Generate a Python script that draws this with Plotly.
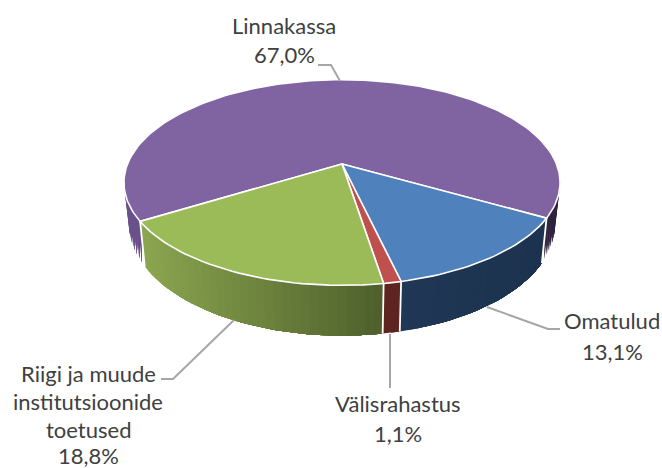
import math
import plotly.graph_objects as go

# Data
categories = ["Linnakassa", "Omatulud", "Välisrahastus", "Riigi ja muude institutsioonide toetused"]
shares = [67.0, 13.1, 1.1, 18.8]
value_labels = ["67,0%", "13,1%", "1,1%", "18,8%"]

# Styles
top_colors = ["#8064a2", "#4f81bd", "#c0504d", "#9bbb59"]
wall_colors = [
    {"left": "#6a5189", "right": "#30243f", "split": True},
    {"left": "#1f3855", "right": "#1c324e"},
    {"left": "#5e2420", "right": "#5e2420"},
    {"left": "#8ba650", "right": "#4e5f2b"},
]

# Projection of the pie
CX, CY = 342.0, 164.0
RX, RY, K = 214.5, 99.5, 0.18
SX, SY, C2 = 0.977, 1.08, 204.6
START = -29.7  # degrees where the first slice begins


def top(deg):
    t = math.radians(deg)
    u, v = math.cos(t), math.sin(t)
    d = 1 + K * v
    return CX + RX * u / d, CY - RY * v / d


def bottom(deg):
    x, y = top(deg)
    return CX + (x - CX) * SX, C2 + (y - CY) * SY


def hex2rgb(c):
    return tuple(int(c[i:i + 2], 16) for i in (1, 3, 5))


def mix(a, b, f):
    f = max(0.0, min(1.0, f))
    ra, rb = hex2rgb(a), hex2rgb(b)
    return "rgb(%d,%d,%d)" % tuple(round(p + (q - p) * f) for p, q in zip(ra, rb))


# First slice runs counter-clockwise from START, the rest clockwise from it
spans = [(START, START + shares[0] * 3.6)]
b = START
for s in shares[1:]:
    spans.append((b - s * 3.6, b))
    b -= s * 3.6

fig = go.Figure()


def poly(xs, ys, fill, line=None, width=0.0):
    fig.add_trace(go.Scatter(x=xs, y=ys, mode="lines", fill="toself", fillcolor=fill,
                             line=dict(color=line or fill, width=width),
                             hoverinfo="skip", showlegend=False))


def edge(xs, ys, width=1.8):
    fig.add_trace(go.Scatter(x=xs, y=ys, mode="lines",
                             line=dict(color="#ffffff", width=width),
                             hoverinfo="skip", showlegend=False))


def wall(lo, hi, style):
    n = max(2, int((hi - lo) / 2.0))
    angs = [lo + (hi - lo) * i / n for i in range(n + 1)]
    angs = [x for x in angs if math.sin(math.radians(x)) < 0.25]
    if len(angs) < 2:
        return
    xs = [top(x)[0] for x in angs]
    x0, x1 = min(xs), max(xs)
    # paint each quad through to the far end of the wall, so no seams show
    order = sorted(range(len(angs) - 1), key=lambda i: top(angs[i])[0])
    for pos, i in enumerate(order):
        p, q = angs[i], angs[i + 1]
        mid = (top(p)[0] + top(q)[0]) / 2
        col = mix(style["left"], style["right"], (mid - x0) / max(x1 - x0, 1))
        if style.get("split"):
            col = style["left"] if mid < CX else style["right"]
        rest = [angs[k] for k in range(len(angs))
                if (top(angs[k])[0] >= top(p)[0] - 1e-6 or top(angs[k])[0] >= top(q)[0] - 1e-6)]
        rest = sorted(rest, key=lambda a: top(a)[0])
        if style.get("split") and mid < CX:
            rest = [a for a in rest if top(a)[0] < CX]
        elif style.get("split"):
            rest = [a for a in rest if top(a)[0] >= CX]
        if len(rest) < 2:
            rest = [p, q]
        tops = [top(a) for a in rest]
        bots = [bottom(a) for a in reversed(rest)]
        pts = tops + bots + tops[:1]
        poly([t[0] for t in pts], [t[1] for t in pts], col)


# Walls
for (lo, hi), style in zip(spans, wall_colors):
    wall(lo, hi, style)

# Wall seams
for deg in [spans[0][0], spans[0][1], spans[2][0], spans[2][1]]:
    p, q = top(deg), bottom(deg)
    edge([p[0], q[0]], [p[1], q[1]])

# Top faces
for (lo, hi), col in zip(spans, top_colors):
    n = max(3, int((hi - lo) / 1.5))
    angs = [lo + (hi - lo) * i / n for i in range(n + 1)]
    pts = [top(x) for x in angs]
    xs = [CX] + [p[0] for p in pts] + [CX]
    ys = [CY] + [p[1] for p in pts] + [CY]
    poly(xs, ys, col, line="#ffffff", width=1.6)

# Leader lines
leaders = [
    ([318, 331, 340], [65, 65, 81]),
    ([487, 548, 560], [307, 329, 329]),
    ([390, 390], [334, 388]),
    ([161, 173, 234], [379, 379, 320]),
]
for xs, ys in leaders:
    fig.add_trace(go.Scatter(x=xs, y=ys, mode="lines", line=dict(color="#a6a6a6", width=2),
                             hoverinfo="skip", showlegend=False))

# Labels
labels = [
    (284, [(categories[0], 25), (value_labels[0], 54)]),
    (612, [(categories[1], 320), (value_labels[1], 351)]),
    (398, [(categories[2], 403), (value_labels[2], 433)]),
    (88, [("Riigi ja muude", 373), ("institutsioonide", 401), ("toetused", 429), (value_labels[3], 455)]),
]
annotations = []
for x, rows in labels:
    for txt, y in rows:
        annotations.append(dict(x=x, y=y, text=txt, showarrow=False, xanchor="center", yanchor="middle",
                                font=dict(family="Lato", size=22, color="#404040")))

fig.update_layout(
    width=662, height=468, margin=dict(l=0, r=0, t=0, b=0),
    paper_bgcolor="#ffffff", plot_bgcolor="#ffffff", showlegend=False,
    xaxis=dict(range=[0, 662], visible=False, fixedrange=True),
    yaxis=dict(range=[468, 0], visible=False, fixedrange=True),
    annotations=annotations,
)
fig.write_html("out.html", config={"displayModeBar": False},
               post_script="document.body.style.margin='0';document.body.style.overflow='hidden';")
